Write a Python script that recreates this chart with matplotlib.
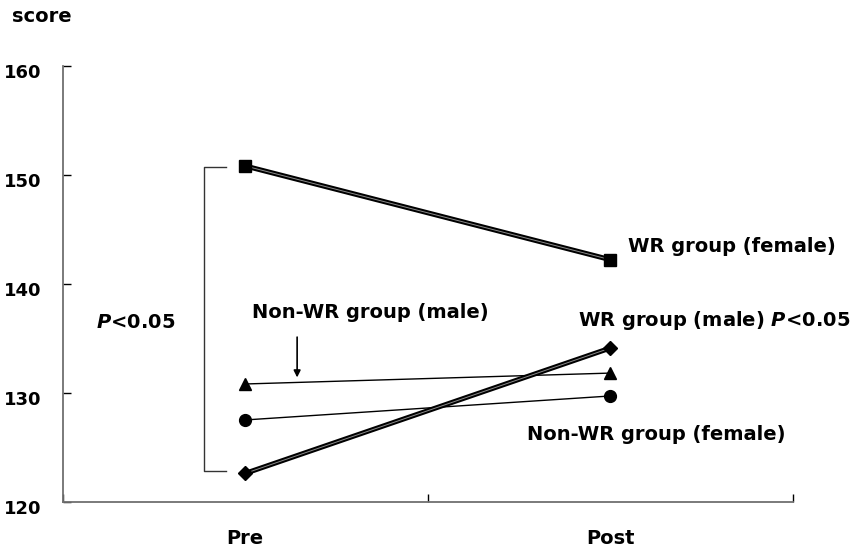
import matplotlib
matplotlib.use("Agg")
import matplotlib.pyplot as plt
from matplotlib.transforms import ScaledTranslation

plt.rcParams['font.family'] = ['DejaVu Sans']
plt.rcParams['font.weight'] = 'bold'
plt.rcParams['mathtext.fontset'] = 'custom'
plt.rcParams['mathtext.it'] = 'DejaVu Sans:bold:italic'
plt.rcParams['mathtext.rm'] = 'DejaVu Sans:bold'

# ---- data ----
categories = ["Pre", "Post"]
wr_female = [150.8, 142.2]
wr_male = [122.6, 134.1]
nonwr_male = [130.8, 131.8]
nonwr_female = [127.5, 129.7]
y_ticks = [120, 130, 140, 150, 160]
y_label = "score"

# ---- figure ----
W, H, DPI = 862, 549, 100
fig = plt.figure(figsize=(W / DPI, H / DPI), dpi=DPI)
ax = fig.add_axes([62.7 / W, 1 - 501.7 / H, (793 - 62.7) / W, (501.7 - 65.7) / H])
ax.set_xlim(0, 2)
ax.set_ylim(120, 160)

xpos = [0.5, 1.5]
FS = 14
TFS = 13

def thick(vals, marker, ms):
    ax.plot(xpos, vals, color='black', lw=3.6, solid_capstyle='butt', zorder=3)
    ax.plot(xpos, vals, color='white', lw=0.7, alpha=0.55, zorder=4)
    ax.plot(xpos, vals, ls='none', marker=marker, ms=ms, mfc='black',
            mec='black', zorder=5)

def thin(vals, marker, ms):
    ax.plot(xpos, vals, color='black', lw=1.0, marker=marker, ms=ms,
            mfc='black', mec='black', zorder=3)

thick(wr_female, 's', 8.5)
thick(wr_male, 'D', 7.5)
thin(nonwr_male, '^', 9)
thin(nonwr_female, 'o', 8.5)

# bracket between pre values of WR groups
bx0, bx1 = 0.387, 0.447
ax.plot([bx1, bx0, bx0, bx1], [wr_female[0] - 0.1, wr_female[0] - 0.1,
                               wr_male[0] + 0.2, wr_male[0] + 0.2],
        color='#333333', lw=1.0, zorder=2)

# arrow
ax.annotate("", xy=(0.642, 131.4), xytext=(0.642, 135.1),
            arrowprops=dict(arrowstyle='-|>', color='black', lw=1.2,
                            mutation_scale=10, shrinkA=0, shrinkB=0))

# annotations (left aligned, centered vertically)
def label(x, y, s):
    ax.text(x, y, s, fontsize=FS, fontweight='bold', ha='left', va='center')

label(1.548, 143.45, "WR group (female)")
label(1.411, 136.6, "WR group (male) $P$<0.05")
label(1.271, 126.2, "Non-WR group (female)")
label(0.518, 137.35, "Non-WR group (male)")
label(0.091, 136.45, "$P$<0.05")

# axes styling
for s in ['top', 'right']:
    ax.spines[s].set_visible(False)
for s in ['left', 'bottom']:
    ax.spines[s].set_color('#707070')
    ax.spines[s].set_linewidth(1.3)

ax.set_yticks(y_ticks)
ax.set_yticklabels([str(t) for t in y_ticks])
ax.tick_params(axis='y', direction='in', length=5.5, width=1.0, color='black',
               pad=15, labelsize=TFS)
off = ScaledTranslation(0, -5 / DPI, fig.dpi_scale_trans)
for lab in ax.get_yticklabels():
    lab.set_transform(lab.get_transform() + off)
    lab.set_fontweight('bold')

ax.set_xticks([0, 1, 2])
ax.set_xticklabels([])
ax.tick_params(axis='x', which='major', direction='in', length=5.5, width=1.0,
               color='black')
ax.set_xticks(xpos, minor=True)
ax.set_xticklabels(categories, minor=True)
ax.tick_params(axis='x', which='minor', length=0, pad=20, labelsize=FS)
for lab in ax.get_xticklabels(minor=True):
    lab.set_fontweight('bold')

fig.text(12 / W, 1 - 17 / H, y_label, fontsize=FS, fontweight='bold',
         ha='left', va='center')

fig.savefig("out.png", dpi=DPI, facecolor='white')
